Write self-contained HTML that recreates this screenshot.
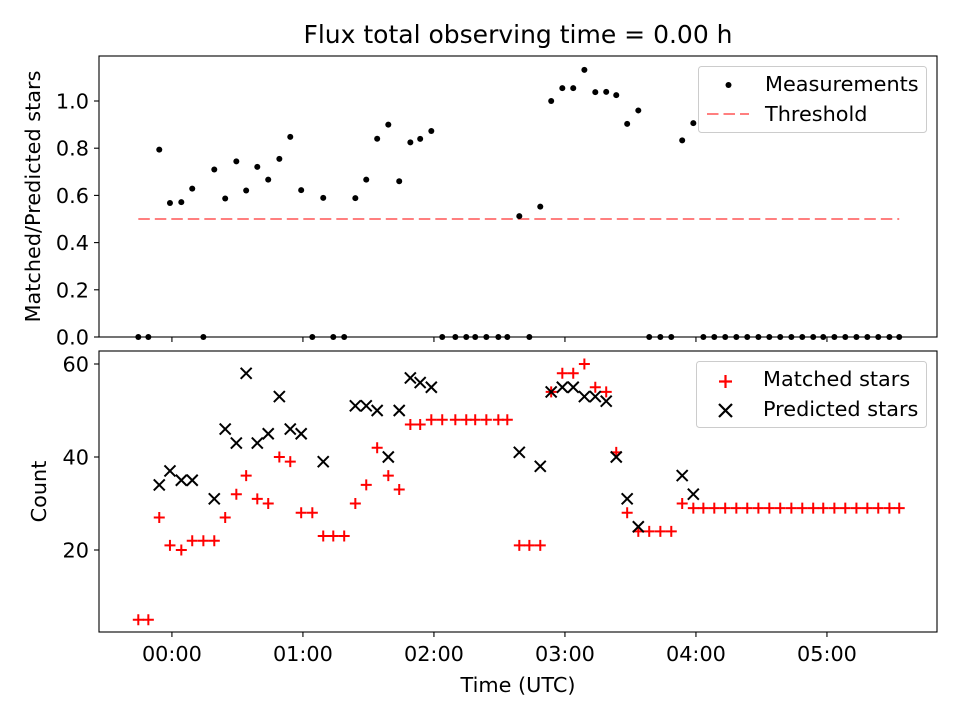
<!DOCTYPE html>
<html><head><meta charset="utf-8"><style>
html,body{margin:0;padding:0;background:#fff;}
svg{display:block;font-family:"DejaVu Sans","Liberation Sans",sans-serif;}
</style></head><body>
<svg id="chart" width="960" height="720" viewBox="0 0 960 720">
<rect width="960" height="720" fill="#fff"/>
<text x="518" y="43" font-size="25" text-anchor="middle">Flux total observing time = 0.00 h</text>
<g id="topPanel"></g>
<g id="botPanel"></g>
</svg>
<script>
// time of each sample, minutes after 00:00 UTC
const times = [-15.4,-10.8,-5.8,-0.9,4.3,9.3,14.4,19.4,24.4,29.5,34.0,39.1,44.1,49.2,54.2,59.2,64.3,69.3,73.9,78.9,84.0,89.0,94.0,99.1,104.1,109.2,113.7,118.8,123.8,129.8,134.8,138.9,144.0,149.5,153.6,
159.1,163.7,168.7,173.7,178.8,183.8,188.9,193.9,198.9,203.5,208.5,213.6,218.6,223.7,228.7,233.7,238.8,243.4,248.4,253.4,258.5,263.5,268.6,273.6,278.6,283.7,288.7,293.7,298.3,303.4,308.4,313.5,318.5,323.5,328.6,333.1];
const matched = [5,5,27,21,20,22,22,22,27,32,36,31,30,40,39,28,28,23,23,23,30,34,42,36,33,47,47,48,48,48,48,48,48,48,48,
21,21,21,54,58,58,60,55,54,41,28,24,24,24,24,30,29,29,29,29,29,29,29,29,29,29,29,29,29,29,29,29,29,29,29,29];
const predicted = [null,null,34,37,35,35,null,31,46,43,58,43,45,53,46,45,null,39,null,null,51,51,50,40,50,57,56,55,null,null,null,null,null,null,null,
41,null,38,54,55,55,53,53,52,40,31,25,null,null,null,36,32,null,null,null,null,null,null,null,null,null,null,null,null,null,null,null,null,null,null,null];
const threshold = 0.5;
const xTickValues = [0,60,120,180,240,300];
const xTickLabels = ["00:00","01:00","02:00","03:00","04:00","05:00"];
const topTicks = [0,0.2,0.4,0.6,0.8,1.0];
const topTickLabels = ["0.0","0.2","0.4","0.6","0.8","1.0"];
const botTicks = [20,40,60];
const botTickLabels = ["20","40","60"];

const NS="http://www.w3.org/2000/svg";
const FS=20.8;
const L=99,R=937;
const xMin=-33.4,xMax=350.4;
const X=v=>L+(v-xMin)/(xMax-xMin)*(R-L);
const TT=56,TB=337,tMin=0,tMax=(337-56)/236;
const YT=v=>TB-(v-tMin)/(tMax-tMin)*(TB-TT);
const BT=351,BB=632,bMin=20-(632-550)/4.65,bMax=20+(550-351)/4.65;
const YB=v=>BB-(v-bMin)/(bMax-bMin)*(BB-BT);
function el(tag,attrs,parent,text){const e=document.createElementNS(NS,tag);for(const k in attrs)e.setAttribute(k,attrs[k]);if(text!==undefined)e.textContent=text;parent.appendChild(e);return e;}
const gTop=document.getElementById('topPanel'), gBot=document.getElementById('botPanel');

const ratio = matched.map((m,i)=>predicted[i]?m/predicted[i]:0);

let th=el('line',{x1:X(times[0]),x2:X(times[times.length-1]),y1:YT(threshold),y2:YT(threshold),stroke:'#ff0000','stroke-opacity':0.5,'stroke-width':2.1,'stroke-dasharray':'11.5 5'},gTop);


ratio.forEach((r,i)=>{
  const c=el('circle',{cx:X(times[i]),cy:YT(r),r:3,fill:'#000'},gTop);
  
  
});
matched.forEach((m,i)=>{
  const x=X(times[i]),y=YB(m);
  const p=el('path',{d:`M${x-5.5} ${y}H${x+5.5}M${x} ${y-5.5}V${y+5.5}`,stroke:'#ff0000','stroke-width':2},gBot);
  
  
});
predicted.forEach((m,i)=>{
  if(m===null)return;
  const x=X(times[i]),y=YB(m);
  const p=el('path',{d:`M${x-5.5} ${y-5.5}L${x+5.5} ${y+5.5}M${x-5.5} ${y+5.5}L${x+5.5} ${y-5.5}`,stroke:'#000','stroke-width':2},gBot);
  
  
});

function frame(g,t,b,name){
  const r=el('rect',{x:L,y:t,width:R-L,height:b-t,fill:'none',stroke:'#000','stroke-width':1.1},g);
  
  
  xTickValues.forEach(v=>{el('line',{x1:X(v),x2:X(v),y1:b,y2:b+5,stroke:'#000','stroke-width':1.1},g);});
}
frame(gTop,TT,TB,'top-axes-frame');
frame(gBot,BT,BB,'bottom-axes-frame');
topTicks.forEach((v,i)=>{
  el('line',{x1:L-5,x2:L,y1:YT(v),y2:YT(v),stroke:'#000','stroke-width':1.1},gTop);
  const t=el('text',{x:L-10,y:YT(v)+7.5,'font-size':FS,'text-anchor':'end'},gTop,topTickLabels[i]);
  
  
});
botTicks.forEach((v,i)=>{
  el('line',{x1:L-5,x2:L,y1:YB(v),y2:YB(v),stroke:'#000','stroke-width':1.1},gBot);
  const t=el('text',{x:L-10,y:YB(v)+7.5,'font-size':FS,'text-anchor':'end'},gBot,botTickLabels[i]);
  
  
});
xTickValues.forEach((v,i)=>{
  const t=el('text',{x:X(v),y:BB+29,'font-size':FS,'text-anchor':'middle'},gBot,xTickLabels[i]);
  
  
});
let t1=el('text',{x:518,y:692,'font-size':FS,'text-anchor':'middle'},gBot,'Time (UTC)');


let t2=el('text',{x:0,y:0,'font-size':FS,'text-anchor':'middle',transform:`translate(40,${(TT+TB)/2}) rotate(-90)`},gTop,'Matched/Predicted stars');


let t3=el('text',{x:0,y:0,'font-size':FS,'text-anchor':'middle',transform:`translate(46,${(BT+BB)/2}) rotate(-90)`},gBot,'Count');



let lg1=el('rect',{x:698.5,y:66.5,width:228,height:66,rx:3,fill:'#fff','fill-opacity':0.8,stroke:'#ccc'},gTop);


el('circle',{cx:728.5,cy:85,r:3,fill:'#000'},gTop);
let a=el('text',{x:765,y:91,'font-size':FS},gTop,'Measurements');


el('line',{x1:707,x2:749,y1:114,y2:114,stroke:'#ff0000','stroke-opacity':0.5,'stroke-width':2.1,'stroke-dasharray':'11.5 5'},gTop);
let b=el('text',{x:765,y:121,'font-size':FS},gTop,'Threshold');



let lg2=el('rect',{x:696.5,y:361.5,width:230,height:66,rx:3,fill:'#fff','fill-opacity':0.8,stroke:'#ccc'},gBot);


el('path',{d:'M719 381.5H732M725.5 375V388',stroke:'#ff0000','stroke-width':2.2},gBot);
let c=el('text',{x:763,y:386,'font-size':FS},gBot,'Matched stars');


el('path',{d:'M719 404L732 417M719 417L732 404',stroke:'#000','stroke-width':2.2},gBot);
let d=el('text',{x:763,y:416,'font-size':FS},gBot,'Predicted stars');


</script>
</body></html>
